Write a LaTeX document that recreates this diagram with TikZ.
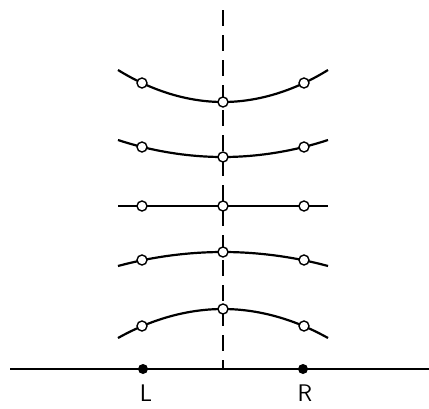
\documentclass[tikz,border=0pt]{standalone}
\usetikzlibrary{positioning}
\begin{document}
\begin{tikzpicture}[
  x=1pt, y=-1pt,
  curve/.style={line width=2.2pt},
  hole/.style={circle, draw, fill=white, line width=1.4pt, minimum size=10pt, inner sep=0pt},
  pole/.style={circle, fill, minimum size=10pt, inner sep=0pt},
  axis/.style={line width=1.8pt, dash pattern=on 16pt off 9pt},
  lbl/.style={font=\sffamily\fontsize{24}{24}\selectfont, inner sep=0pt}
]
\useasboundingbox (0,0) rectangle (429,408);
% symmetry axis
\coordinate (top) at (223,10);
\coordinate (foot) at (223,369);
\draw[axis] (top) -- (foot);
% base line and the two poles
\coordinate (west) at (10,369);
\coordinate (east) at (429,369);
\draw[line width=1.8pt] (west) -- (east);
\node[pole] (L) at (143,369) {};
\node[pole] (R) at (303,369) {};
\node[lbl, below=10pt of L, xshift=3pt] (Ltext) {L};
\node[lbl, below=10pt of R, xshift=2pt] (Rtext) {R};
% field lines: number / middle y / circle y / end y
\foreach \i/\ym/\yc/\ye in {1/102/83/70, 2/157/147/140, 3/206/206/206, 4/252/260/266, 5/309/326/338} {
  \coordinate (a\i) at (118,\ye);
  \coordinate (m\i) at (223,\ym);
  \coordinate (b\i) at (328,\ye);
  \draw[curve] (a\i) parabola bend (m\i) (b\i);
  \node[hole] (l\i) at (142,\yc) {};
  \node[hole] (c\i) at (m\i) {};
  \node[hole] (r\i) at (304,\yc) {};
}
\end{tikzpicture}
\end{document}
